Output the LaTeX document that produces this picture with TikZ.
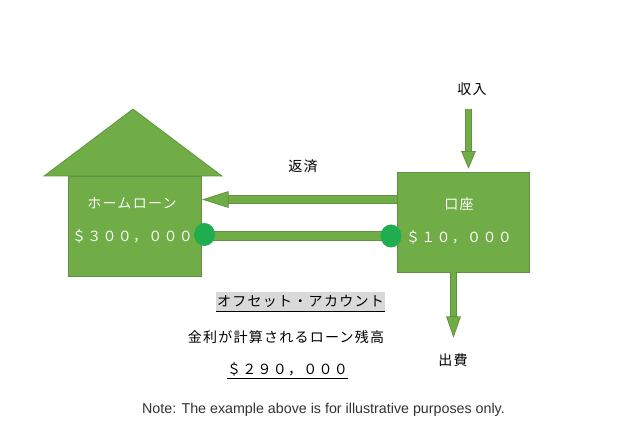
\documentclass[tikz,border=0pt]{standalone}
\usepackage{fontspec}
\usetikzlibrary{arrows.meta,shapes.geometric}
\setmainfont{Liberation Sans}
\newfontfamily\jpA[LetterSpace=9]{Noto Sans CJK JP}
\definecolor{gfill}{HTML}{70AD47}
\definecolor{gline}{HTML}{5F9140}
\definecolor{gdot}{HTML}{1FAD50}
\tikzset{
  x=.75pt,y=-.75pt,
  block/.style={draw=gline,fill=gfill,line width=.75pt,inner sep=0pt,anchor=north west},
  dot/.style={ellipse,fill=gdot,draw=none,minimum width=15.75pt,minimum height=17.25pt,inner sep=0pt},
  wtext/.style={text=white,font=\jpA\fontsize{10.5pt}{12pt}\selectfont,inner sep=0pt},
  ktext/.style={text=black,font=\jpA\fontsize{10.5pt}{12pt}\selectfont,inner sep=0pt},
  bigflow/.style={line width=6.75pt,draw=gline,
    -{Triangle[length=#1,width=12.5pt,line width=.6pt,fill=gfill,color=gline]},
    postaction={draw=gfill,line width=5.25pt,-,shorten >=#1}},
  thinflow/.style={line width=5pt,draw=gline,
    -{Triangle[length=#1,width=11pt,line width=.6pt,fill=gfill,color=gline]},
    postaction={draw=gfill,line width=3.5pt,-,shorten >=#1}},
  bar/.style={line width=7.5pt,draw=gline,postaction={draw=gfill,line width=6pt}},
  uline/.style={draw=black,line width=.75pt}
}
\begin{document}
\begin{tikzpicture}
\useasboundingbox (0,0) rectangle (644,441);
\fill[white] (0,0) rectangle (644,441);
% house
\coordinate (apex) at (133,109);
\coordinate (roofL) at (44,176);
\coordinate (roofR) at (222,176);
\fill[gfill,draw=gline,line width=.5pt,line join=miter] (apex) -- (roofR) -- (roofL) -- cycle;
\node[block,minimum width=100pt,minimum height=75pt] (house) at (68,176) {};
\node[block,minimum width=99pt,minimum height=75pt] (acct) at (397,172.5) {};
% anchors for connectors
\coordinate (payS) at (397,199.5);
\coordinate (payT) at (202,199.5);
\coordinate (barL) at (204.5,235.8);
\coordinate (barR) at (391,235.8);
\coordinate (inS) at (468.5,109);
\coordinate (inT) at (468.5,168.7);
\coordinate (outS) at (453.5,272.5);
\coordinate (outT) at (453.5,337.7);
\draw[bigflow=20pt] (payS) -- (payT);
\draw[bar] (barL) -- (barR);
\draw[thinflow=13.2pt] (inS) -- (inT);
\draw[thinflow=16pt] (outS) -- (outT);
\node[dot] (dotL) at (204.5,234.5) {};
\node[dot] (dotR) at (391,236) {};
% texts
\node[wtext] (t1) at (132,203.5) {ホームローン};
\node[wtext] (t2) at (132.5,236.5) {＄３００，０００};
\node[wtext] (t3) at (459,204) {口座};
\node[wtext] (t4) at (459,237) {＄１０，０００};
\node[ktext] (t5) at (303,166) {返済};
\node[ktext] (t6) at (472,89) {収入};
\node[ktext] (t7) at (453,360) {出費};
\node[ktext,fill=black!15,minimum width=126.75pt,minimum height=14pt] (t8) at (300.5,301.5) {オフセット・アカウント};
\draw[uline] (t8.south west) -- (t8.south east);
\node[ktext] (t9) at (286,337) {金利が計算されるローン残高};
\node[ktext,minimum width=89.5pt,minimum height=12.5pt] (t10) at (287.5,369.5) {＄２９０，０００};
\draw[uline] (t10.south west) -- (t10.south east);
\node[text=black!80,font=\fontsize{10.7pt}{12pt}\selectfont,inner sep=0pt] (note) at (323.5,410) {Note: The example above is for illustrative purposes only.};
\end{tikzpicture}
\end{document}
